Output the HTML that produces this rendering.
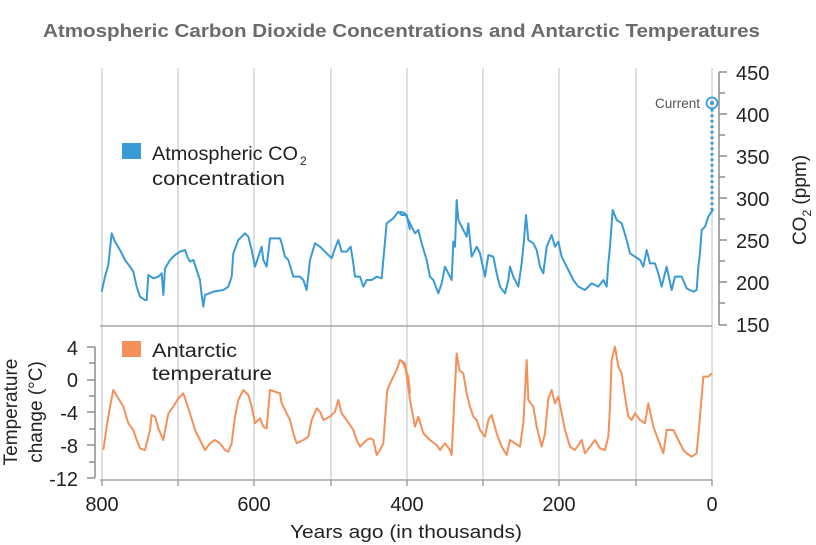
<!DOCTYPE html>
<html><head><meta charset="utf-8"><style>
body{margin:0;background:#fff;}
svg{display:block;font-family:"Liberation Sans",sans-serif;}
</style></head><body>
<svg width="816" height="545" viewBox="0 0 816 545">
<text x="43" y="37" textLength="717" lengthAdjust="spacingAndGlyphs" font-size="18.5" font-weight="bold" fill="#6b6b6b">Atmospheric Carbon Dioxide Concentrations and Antarctic Temperatures</text>
<g stroke="#dde0e2" stroke-width="2">
<line x1="102" y1="68" x2="102" y2="480"/><line x1="178" y1="68" x2="178" y2="480"/><line x1="254" y1="68" x2="254" y2="480"/><line x1="331" y1="68" x2="331" y2="480"/><line x1="407" y1="68" x2="407" y2="480"/><line x1="483" y1="68" x2="483" y2="480"/><line x1="559" y1="68" x2="559" y2="480"/><line x1="636" y1="68" x2="636" y2="480"/><line x1="712" y1="68" x2="712" y2="480"/>
</g>
<line x1="100" y1="326" x2="712" y2="326" stroke="#a0a4a8" stroke-width="1.5"/>
<line x1="100" y1="480" x2="712" y2="480" stroke="#a0a4a8" stroke-width="1.5"/>
<g stroke="#a0a4a8" stroke-width="1.5">
<line x1="102" y1="480" x2="102" y2="486"/><line x1="178" y1="480" x2="178" y2="486"/><line x1="254" y1="480" x2="254" y2="486"/><line x1="331" y1="480" x2="331" y2="486"/><line x1="407" y1="480" x2="407" y2="486"/><line x1="483" y1="480" x2="483" y2="486"/><line x1="559" y1="480" x2="559" y2="486"/><line x1="636" y1="480" x2="636" y2="486"/><line x1="712" y1="480" x2="712" y2="486"/>
</g>
<g stroke="#8a8e92" stroke-width="1.5">
<line x1="719" y1="72" x2="719" y2="325"/>
<line x1="719" y1="72" x2="727" y2="72"/><line x1="719" y1="93" x2="725" y2="93"/><line x1="719" y1="114" x2="727" y2="114"/><line x1="719" y1="135" x2="725" y2="135"/><line x1="719" y1="156" x2="727" y2="156"/><line x1="719" y1="177" x2="725" y2="177"/><line x1="719" y1="198" x2="727" y2="198"/><line x1="719" y1="219" x2="725" y2="219"/><line x1="719" y1="240" x2="727" y2="240"/><line x1="719" y1="261" x2="725" y2="261"/><line x1="719" y1="282" x2="727" y2="282"/><line x1="719" y1="303" x2="725" y2="303"/><line x1="719" y1="325" x2="727" y2="325"/>
</g>
<g font-size="20" fill="#222" text-anchor="start">
<text x="736" y="80">450</text><text x="736" y="122">400</text><text x="736" y="164">350</text><text x="736" y="206">300</text><text x="736" y="248">250</text><text x="736" y="290">200</text><text x="736" y="332">150</text>
</g>
<text transform="translate(806,200) rotate(-90)" text-anchor="middle" font-size="19" fill="#222">CO<tspan font-size="12" dy="5">2</tspan><tspan dy="-5"> (ppm)</tspan></text>
<g stroke="#8a8e92" stroke-width="1.5">
<line x1="95" y1="347" x2="95" y2="478"/>
<line x1="87" y1="347" x2="95" y2="347"/><line x1="89" y1="363" x2="95" y2="363"/><line x1="87" y1="380" x2="95" y2="380"/><line x1="89" y1="396" x2="95" y2="396"/><line x1="87" y1="412" x2="95" y2="412"/><line x1="89" y1="429" x2="95" y2="429"/><line x1="87" y1="445" x2="95" y2="445"/><line x1="89" y1="462" x2="95" y2="462"/><line x1="87" y1="478" x2="95" y2="478"/>
</g>
<g font-size="20" fill="#222" text-anchor="end">
<text x="78" y="355">4</text><text x="78" y="387">0</text><text x="78" y="420">-4</text><text x="78" y="453">-8</text><text x="78" y="486">-12</text>
</g>
<text transform="translate(17,412) rotate(-90)" text-anchor="middle" font-size="19" fill="#222">Temperature</text>
<text transform="translate(42,412) rotate(-90)" text-anchor="middle" font-size="19" fill="#222">change (°C)</text>
<g font-size="20" fill="#222" text-anchor="middle">
<text x="102" y="511">800</text><text x="254" y="511">600</text><text x="407" y="511">400</text><text x="559" y="511">200</text><text x="712" y="511">0</text>
</g>
<text x="290" y="538" textLength="232" lengthAdjust="spacingAndGlyphs" font-size="18.5" fill="#222">Years ago (in thousands)</text>
<rect x="122" y="143" width="19" height="16" fill="#3a9ad6"/>
<text x="152" y="160" font-size="19" fill="#222"><tspan textLength="146" lengthAdjust="spacingAndGlyphs">Atmospheric CO</tspan><tspan x="300" font-size="12" dy="5">2</tspan></text>
<text x="152" y="185" textLength="133" lengthAdjust="spacingAndGlyphs" font-size="19" fill="#222">concentration</text>
<rect x="122" y="341" width="19" height="16" fill="#f4905a"/>
<text x="152" y="357" textLength="85" lengthAdjust="spacingAndGlyphs" font-size="19" fill="#222">Antarctic</text>
<text x="152" y="380" textLength="120" lengthAdjust="spacingAndGlyphs" font-size="19" fill="#222">temperature</text>
<line x1="712" y1="109" x2="712" y2="212" stroke="#3a9ad6" stroke-width="3" stroke-dasharray="2.5 3"/>
<circle cx="712" cy="103" r="5.5" fill="none" stroke="#3a9ad6" stroke-width="1.8"/>
<circle cx="712" cy="103" r="2" fill="#3a9ad6"/>
<text x="700" y="108" text-anchor="end" font-size="13.5" fill="#555">Current</text>
<g fill="none" stroke="#3a9ad6" stroke-width="2" stroke-linejoin="round">
<polyline vector-effect="non-scaling-stroke" transform="translate(100,180) scale(0.33333)" points="5,335 15,290 25,255 35,160 45,185 60,210 75,240 90,260 100,275 110,320 120,350 135,360 140,360 145,285 160,295 175,290 185,280 190,345 195,265 210,240 225,225 240,215 255,210 262,230 270,245 280,240 290,270 300,300 305,345 310,380 315,345 340,335 370,330 385,320 395,290 400,220 415,180 435,160 445,170 455,210 465,260 475,230 485,200 490,240 500,260 510,175 540,175 545,190 555,230 565,240 580,290 600,290 610,300 620,330 630,240 645,190 660,200 680,220 695,235 705,205 715,180 725,215 740,215 752,200 760,250 765,290 780,290 790,320 800,300 815,300 830,290 845,295 850,240 860,130 880,115 895,95 905,105 920,105 930,150"/>
<polyline vector-effect="non-scaling-stroke" transform="translate(400,180) scale(0.33333)" points="0,95 15,100 30,130 45,160 55,150 65,190 80,240 90,290 100,300 115,340 125,310 135,260 145,280 155,300 160,185 165,200 170,60 175,120 185,140 200,170 205,130 210,180 215,230 230,200 240,220 255,290 265,225 280,230 290,280 300,320 315,340 325,300 330,260 340,290 355,320 365,250 372,180 378,105 385,180 400,190 410,210 420,260 430,280 440,200 455,165 465,200 475,185 485,230 495,250 505,270 520,300 535,320 555,330 575,310 595,320 610,300 620,320 625,250 630,200 638,90 650,120 665,130 680,180 690,220 705,230 720,240 730,260 740,210 750,250 765,250 775,280 785,320 800,260 815,330 825,290 845,290 860,325 880,335 890,330 895,260 900,220 905,150 915,140 925,110 935,95 940,88"/>
</g>
<g fill="none" stroke="#f4905a" stroke-width="2" stroke-linejoin="round">
<polyline vector-effect="non-scaling-stroke" transform="translate(100,340) scale(0.33333)" points="10,330 20,260 30,200 40,150 55,175 70,200 85,250 100,270 110,300 120,325 135,330 150,270 155,225 165,230 175,265 190,300 205,220 220,200 235,175 250,160 260,190 270,220 285,270 300,300 315,330 330,310 345,300 360,310 375,330 385,335 395,310 405,230 415,180 430,150 445,165 455,200 465,250 480,235 490,260 500,265 510,150 540,160 545,190 560,220 570,240 580,280 590,310 610,300 625,290 635,240 650,205 660,215 670,240 690,230 705,215 715,180 725,220 740,240 760,270 770,300 780,320 800,300 810,295 820,300 830,345 840,330 850,310 855,240 862,150 875,120 890,90 900,60 910,70 925,110 930,160"/>
<polyline vector-effect="non-scaling-stroke" transform="translate(400,340) scale(0.33333)" points="0,60 15,70 30,180 45,260 55,230 70,280 90,300 110,315 120,330 135,310 150,330 155,345 160,240 170,40 178,90 190,100 200,160 210,200 220,230 230,240 240,270 255,290 265,240 275,225 290,280 305,320 320,345 330,300 345,310 360,320 370,250 380,60 385,180 400,200 410,260 425,320 435,280 445,175 455,150 465,190 475,170 485,220 495,270 510,320 525,330 545,300 555,340 570,320 585,300 600,325 615,330 625,290 630,200 635,60 645,20 655,80 665,100 675,170 685,230 695,240 705,220 720,240 735,250 745,190 760,260 775,300 790,340 800,270 820,270 835,300 850,330 860,340 875,350 890,340 900,230 910,110 925,110 936,100"/>
</g>
</svg>
</body></html>
